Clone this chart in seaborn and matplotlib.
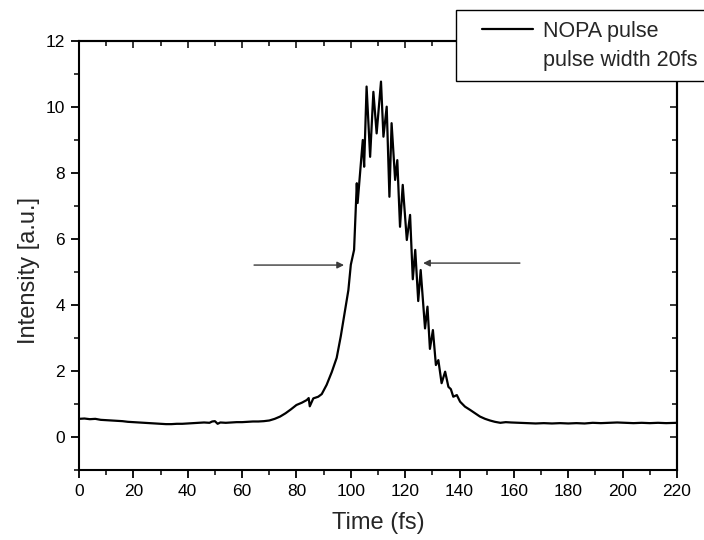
import matplotlib
matplotlib.use("Agg")
import matplotlib.pyplot as plt
from matplotlib.lines import Line2D
from matplotlib.patches import Rectangle
from matplotlib.ticker import MultipleLocator
import seaborn as sns
import pandas as pd

# ---- data ----
time_fs = [
    0, 2, 4, 6, 8, 10, 12, 14, 16, 18, 20, 22, 24, 26, 28, 30, 32, 34, 36, 38, 40, 42, 44, 46, 48,
    49, 50, 51, 52,
    54, 56, 58, 60, 62, 64, 66, 68, 70, 72, 74, 76, 78, 80, 82,
    83.8, 84.5, 84.9, 86.2, 88, 89.3, 91.1, 93, 94.8, 96.3, 97.9, 99.1,
    100.0, 101.2, 102.2, 102.5, 104.4, 104.9, 105.8, 107.1, 108.3, 109.5,
    111.1, 112.0, 113.2, 114.2, 115.0, 116.3, 117.1, 118.1, 119.1, 120.6,
    121.8, 122.8, 123.7, 124.8, 125.7,
    127.3, 128.2, 129.1, 130.2, 131.3, 132.2, 133.4, 134.7, 135.9, 136.8,
    137.7, 139.0, 140.2, 142, 143.9, 145.7, 147.5, 149.4, 151.2, 153,
    155, 157, 159,
    162, 165, 168, 171, 174, 177, 180, 183, 186, 189, 192, 195, 198, 201, 204, 207, 210, 213, 216,
    220,
]
intensity = [
    0.55, 0.56, 0.54, 0.55, 0.52, 0.51, 0.50, 0.49, 0.48, 0.46, 0.45, 0.44, 0.43, 0.42, 0.41, 0.40,
    0.39, 0.39, 0.40, 0.40, 0.41, 0.42, 0.43, 0.44, 0.43,
    0.47, 0.48, 0.40, 0.44,
    0.43, 0.44, 0.45, 0.45, 0.46, 0.47, 0.47, 0.48, 0.50, 0.55, 0.62, 0.72, 0.84, 0.97, 1.04,
    1.12, 1.18, 0.93, 1.17, 1.22, 1.30, 1.58, 1.97, 2.40, 3.05, 3.85, 4.45,
    5.22, 5.67, 7.69, 7.09, 9.00, 8.19, 10.62, 8.49, 10.46, 9.20,
    10.77, 9.10, 10.01, 7.28, 9.51, 7.79, 8.39, 6.37, 7.64, 5.97,
    6.73, 4.78, 5.67, 4.12, 5.06,
    3.29, 3.95, 2.67, 3.24, 2.18, 2.33, 1.63, 1.98, 1.52, 1.45,
    1.22, 1.27, 1.07, 0.92, 0.82, 0.72, 0.62, 0.55, 0.50, 0.46,
    0.43, 0.45, 0.44,
    0.43, 0.42, 0.41, 0.42, 0.41, 0.42, 0.41, 0.42, 0.41, 0.43, 0.42, 0.43, 0.44, 0.43, 0.42, 0.43,
    0.42, 0.43, 0.42,
    0.43,
]
series_label = "NOPA pulse"
note_label = "pulse width 20fs"
x_label = "Time (fs)"
y_label = "Intensity [a.u.]"

# FWHM arrows (tail x, head x, y)
arrow_tail_x = [64.4, 162.2]
arrow_head_x = [97.5, 126.6]
arrow_y = [5.21, 5.27]

sns.set_style("ticks")
plt.rcParams["font.family"] = ["Liberation Sans", "DejaVu Sans"]

df = pd.DataFrame({"time": time_fs, "intensity": intensity})

W, H = 704, 540
fig = plt.figure(figsize=(W / 100, H / 100), dpi=100)
ax = fig.add_axes([79 / W, 1 - 470 / H, (677 - 79) / W, (470 - 41) / H])

sns.lineplot(data=df, x="time", y="intensity", ax=ax, color="black",
             linewidth=1.6, estimator=None, sort=False)

for tx, hx, yy in zip(arrow_tail_x, arrow_head_x, arrow_y):
    ax.annotate("", xy=(hx, yy), xytext=(tx, yy),
                arrowprops=dict(arrowstyle="-|>", color="#3a3a3a", lw=1.0,
                                mutation_scale=10, shrinkA=0, shrinkB=0))

ax.set_xlim(0, 220)
ax.set_ylim(-1, 12)
ax.xaxis.set_major_locator(MultipleLocator(20))
ax.xaxis.set_minor_locator(MultipleLocator(10))
ax.yaxis.set_major_locator(MultipleLocator(2))
ax.yaxis.set_minor_locator(MultipleLocator(1))

for sp in ax.spines.values():
    sp.set_visible(True)
    sp.set_linewidth(1.5)
    sp.set_color("black")

ax.tick_params(which="major", direction="out", length=6, width=1.3,
               labelsize=12.5, pad=4, colors="black")
ax.tick_params(which="minor", direction="out", length=3.5, width=1.3)

# inward ticks on top and right
top = ax.secondary_xaxis("top")
top.xaxis.set_major_locator(MultipleLocator(20))
top.xaxis.set_minor_locator(MultipleLocator(10))
top.tick_params(which="major", direction="in", length=5, width=1.3, labeltop=False)
top.tick_params(which="minor", direction="in", length=3.5, width=1.3)
right = ax.secondary_yaxis("right")
right.yaxis.set_major_locator(MultipleLocator(2))
right.yaxis.set_minor_locator(MultipleLocator(1))
right.tick_params(which="major", direction="in", length=5, width=1.3, labelright=False)
right.tick_params(which="minor", direction="in", length=3.5, width=1.3)
for sec in (top, right):
    for sp in sec.spines.values():
        sp.set_linewidth(1.5)

ax.set_xlabel(x_label, fontsize=17)
ax.set_ylabel(y_label, fontsize=17)
ax.xaxis.set_label_coords(0.5, -(512 - 470) / 429)
ax.yaxis.set_label_coords(-(79 - 40) / 598, (470 - 270) / 429)

# legend box (extends past the right edge like the reference)
fig.patches.append(Rectangle((456 / W, 1 - 81 / H), (730 - 456) / W, 71 / H,
                             transform=fig.transFigure, facecolor="white",
                             edgecolor="black", linewidth=1.0, zorder=5))
handles = [Line2D([], [], color="black", linewidth=1.6),
           Line2D([], [], color="none", linewidth=0)]
leg = fig.legend(handles, [series_label, note_label], loc="upper left",
                 bbox_to_anchor=(482 / W, 1 - 21 / H), fontsize=15.5,
                 frameon=False, handlelength=2.37, handletextpad=0.47,
                 borderpad=0, labelspacing=0.38, borderaxespad=0)
leg.set_zorder(6)

fig.savefig("out.png", dpi=100)
